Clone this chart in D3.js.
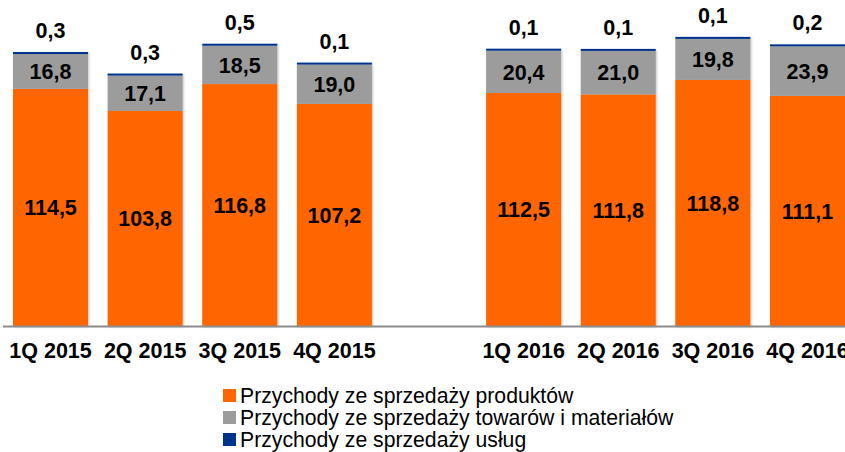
<!DOCTYPE html>
<html>
<head>
<meta charset="utf-8">
<script src="https://cdn.jsdelivr.net/npm/d3@7"></script>
<style>
  html, body { margin: 0; padding: 0; background: #fff; }
  svg { display: block; }
  text { font-family: "Liberation Sans", Arial, sans-serif; }
</style>
</head>
<body>
<svg id="chart" width="845" height="452"></svg>
<script>
const categories = ["1Q 2015", "2Q 2015", "3Q 2015", "4Q 2015", "1Q 2016", "2Q 2016", "3Q 2016", "4Q 2016"];
const products = [114.5, 103.8, 116.8, 107.2, 112.5, 111.8, 118.8, 111.1];
const goods    = [16.8, 17.1, 18.5, 19.0, 20.4, 21.0, 19.8, 23.9];
const services = [0.3, 0.3, 0.5, 0.1, 0.1, 0.1, 0.1, 0.2];
const seriesNames = [
  "Przychody ze sprzedaży produktów",
  "Przychody ze sprzedaży towarów i materiałów",
  "Przychody ze sprzedaży usług"
];
const colors = ["#FF6600", "#9C9C9C", "#00338D"];

const svg = d3.select("#chart");
const W = 845, H = 452;
const baseY = 326;

// domain with an empty gap slot between the years
const GAP = "__gap__";
const domain = [...categories.slice(0, 4), GAP, ...categories.slice(4)];

const x = d3.scaleBand().domain(domain).range([13, 845]).paddingInner(0.207).paddingOuter(0);
const y = d3.scaleLinear().domain([0, 140]).range([baseY, 36]);

const loc = d3.formatLocale({decimal: ",", thousands: " ", grouping: [3], currency: ["", ""]});
const fmt = loc.format(".1f");

const data = categories.map((c, i) => ({cat: c, p: products[i], g: goods[i], s: services[i]}));

const g = svg.append("g");

// shadow filter
const defs = svg.append("defs");
const f = defs.append("filter").attr("id", "sh").attr("x", "-10%").attr("y", "-10%").attr("width", "120%").attr("height", "120%");
f.append("feGaussianBlur").attr("in", "SourceAlpha").attr("stdDeviation", 1.2).attr("result", "b");
f.append("feOffset").attr("in", "b").attr("dx", 1).attr("dy", 1).attr("result", "o");
f.append("feComponentTransfer").attr("in", "o").attr("result", "o2")
  .append("feFuncA").attr("type", "linear").attr("slope", 0.25);
const m = f.append("feMerge");
m.append("feMergeNode").attr("in", "o2");
m.append("feMergeNode").attr("in", "SourceGraphic");

const bars = g.selectAll(".bar").data(data).enter().append("g").attr("class", "bar").attr("filter", "url(#sh)");

bars.append("rect")
  .attr("x", d => x(d.cat)).attr("width", x.bandwidth())
  .attr("y", d => y(d.p)).attr("height", d => baseY - y(d.p))
  .attr("fill", colors[0]);
bars.append("rect")
  .attr("x", d => x(d.cat)).attr("width", x.bandwidth())
  .attr("y", d => y(d.p + d.g)).attr("height", d => y(d.p) - y(d.p + d.g))
  .attr("fill", colors[1]);
bars.append("rect")
  .attr("x", d => x(d.cat)).attr("width", x.bandwidth())
  .attr("y", d => Math.min(y(d.p + d.g + d.s), y(d.p + d.g) - 2))
  .attr("height", d => Math.max(2, y(d.p + d.g) - y(d.p + d.g + d.s)))
  .attr("fill", colors[2]);

// labels
const lbl = g.selectAll(".lbl").data(data).enter().append("g").attr("class", "lbl")
  .attr("font-weight", "bold").attr("font-size", "21.5px").attr("fill", "#000").attr("text-anchor", "middle");
lbl.append("text")
  .attr("x", d => x(d.cat) + x.bandwidth() / 2)
  .attr("y", d => (y(d.p) + baseY) / 2).attr("dy", "0.36em")
  .text(d => fmt(d.p));
lbl.append("text")
  .attr("x", d => x(d.cat) + x.bandwidth() / 2)
  .attr("y", d => (y(d.p) + y(d.p + d.g)) / 2).attr("dy", "0.36em")
  .text(d => fmt(d.g));
lbl.append("text")
  .attr("x", d => x(d.cat) + x.bandwidth() / 2)
  .attr("y", d => Math.min(y(d.p + d.g + d.s), y(d.p + d.g) - 2) - 14)
  .text(d => fmt(d.s));

// axis line
svg.append("line").attr("x1", 3).attr("x2", W).attr("y1", baseY + 0.5).attr("y2", baseY + 0.5)
  .attr("stroke", "#8C8C8C").attr("stroke-width", 2);

// x axis labels
const xAxis = d3.axisBottom(x).tickSize(0).tickPadding(0).tickFormat(d => d === GAP ? "" : d);
const ax = svg.append("g").attr("transform", `translate(0,${baseY})`).call(xAxis);
ax.select(".domain").remove();
ax.selectAll("text")
  .attr("font-family", "'Liberation Sans', Arial, sans-serif")
  .attr("font-size", "21.5px").attr("font-weight", "bold").attr("fill", "#000")
  .attr("dy", null).attr("y", 32);

// legend
const leg = svg.append("g").attr("transform", "translate(223,389)");
seriesNames.forEach((n, i) => {
  const r = leg.append("g").attr("transform", `translate(0,${i * 22})`);
  r.append("rect").attr("width", 13).attr("height", 13).attr("fill", colors[i]);
  r.append("text").attr("x", 17).attr("y", 13.5).attr("font-size", "21.2px").attr("fill", "#000").text(n);
});
</script>
</body>
</html>
